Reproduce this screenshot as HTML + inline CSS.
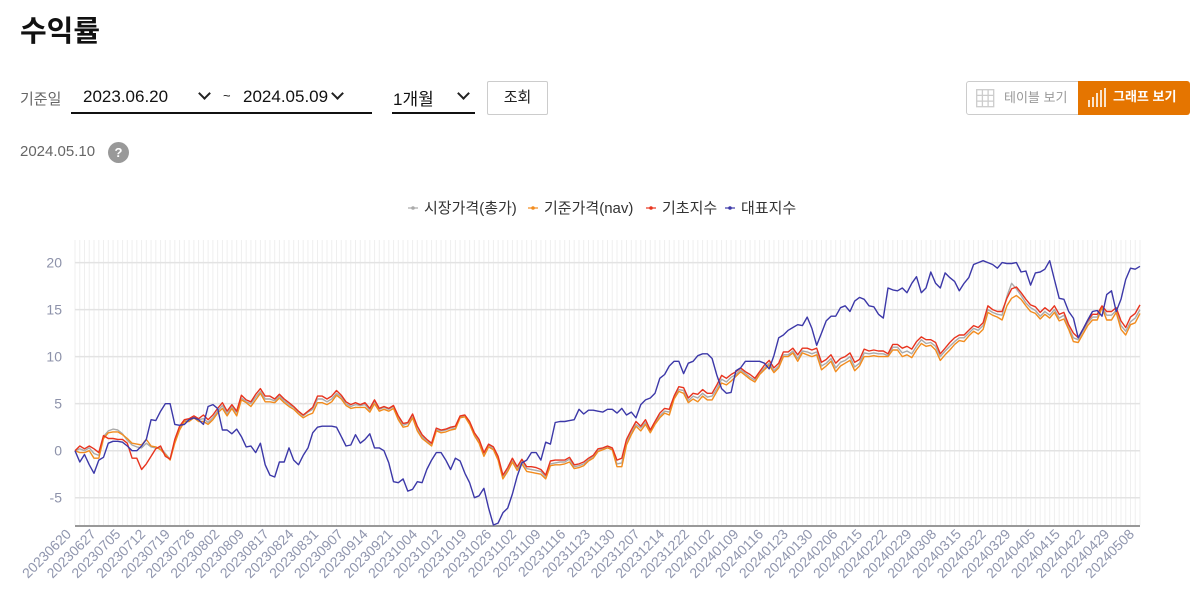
<!DOCTYPE html>
<html lang="ko"><head><meta charset="utf-8">
<style>
body{margin:0;width:1202px;height:596px;background:#fff;font-family:"Liberation Sans","Noto Sans CJK KR",sans-serif;position:relative;overflow:hidden;color:#222}
.abs{position:absolute}
.title{left:20px;top:8px;font-size:29px;font-weight:bold;color:#111}
.lbl{left:20px;top:88px;font-size:15px;color:#666}
.sel{font-size:17px;color:#111;border-bottom:2px solid #111;height:33px;top:81px;box-sizing:border-box}
.chev{position:absolute;top:6px;width:7px;height:7px;border-right:2px solid #222;border-bottom:2px solid #222;transform:rotate(45deg)}
.btn{left:487px;top:81px;width:61px;height:34px;border:1px solid #ccc;box-sizing:border-box;font-size:15px;text-align:center;line-height:32px;color:#222;border-radius:2px}
.tog{top:81px;height:34px;box-sizing:border-box;font-size:13px;line-height:32px}
</style></head><body>
<div class="abs title">수익률</div>
<div class="abs lbl">기준일</div>
<div class="abs sel" style="left:71px;width:301px">
 <span class="abs" style="left:12px;top:6px">2023.06.20</span>
 <span class="chev" style="left:129px;top:8px"></span>
 <span class="abs" style="left:152px;top:7px;font-size:13px">~</span>
 <span class="abs" style="left:172px;top:6px">2024.05.09</span>
 <span class="chev" style="left:262px;top:8px"></span>
</div>
<div class="abs sel" style="left:392px;width:83px">
 <span class="abs" style="left:1px;top:4px">1개월</span>
 <span class="chev" style="left:67px;top:8px"></span>
</div>
<div class="abs btn">조회</div>
<div class="abs tog" style="left:966px;width:113px;border:1px solid #ccc;border-radius:3px 0 0 3px;color:#999">
 <svg class="abs" style="left:9px;top:7px" width="19" height="19"><g fill="none" stroke="#ccc" stroke-width="1.3"><rect x="0.7" y="0.7" width="17" height="17"/><path d="M6.4 1V18M12.1 1V18M1 6.4H18M1 12.1H18"/></g></svg>
 <span class="abs" style="left:37px;top:0">테이블 보기</span>
</div>
<div class="abs tog" style="left:1078px;width:112px;background:#e57500;border-radius:0 3px 3px 0;color:#fff;font-weight:bold">
 <svg class="abs" style="left:9px;top:6px" width="20" height="21"><g stroke="#fff" stroke-width="1.6"><path d="M2 20V13M6 20V10M10 20V6M14 20V3M18 20V1"/></g></svg>
 <span class="abs" style="left:35px;top:0">그래프 보기</span>
</div>
<div class="abs" style="left:20px;top:143px;font-size:15px;color:#666">2024.05.10</div>
<div class="abs" style="left:108px;top:142px;width:21px;height:21px;border-radius:50%;background:#999;color:#fff;font-size:13px;font-weight:bold;text-align:center;line-height:21px">?</div>

<svg id="chart" class="abs" style="left:0;top:0" width="1202" height="596"></svg>

<script>
const labels=["20230620","20230627","20230705","20230712","20230719","20230726","20230802","20230809","20230817","20230824","20230831","20230907","20230914","20230921","20231004","20231012","20231019","20231026","20231102","20231109","20231116","20231123","20231130","20231207","20231214","20231222","20240102","20240109","20240116","20240123","20240130","20240206","20240215","20240222","20240229","20240308","20240315","20240322","20240329","20240405","20240415","20240422","20240429","20240508"];
const yTicks=[-5,0,5,10,15,20];
const seriesNames=["시장가격(총가)","기준가격(nav)","기초지수","대표지수"];
const marketPrice=[0,0.2,0,0.3,-0.3,-0.5,1.5,2.1,2.3,2.2,1.8,1.1,0.6,0.4,0.3,0.8,0.4,0.3,0.3,-0.3,-0.9,1,2.4,3.2,3.3,3.6,3.3,3.4,3,3.5,4.2,4.8,3.9,4.7,4,5.6,5.2,5,5.7,6.3,5.5,5.5,5.3,5.8,5.3,4.9,4.6,4.1,3.7,4.1,4.4,5.5,5.5,5.2,5.5,6.1,
5.7,5,4.7,4.9,4.8,4.9,4.3,5.2,4.4,4.6,4.4,4.7,3.5,2.7,2.9,3.7,2.3,1.5,1,0.7,2.2,2.1,2.2,2.4,2.4,3.6,3.7,2.9,1.7,1,-0.4,0.6,0.2,-0.8,-2.8,-2,-1,-1.9,-1.1,-1.9,-2,-2.1,-2.2,-2.8,-1.4,-1.3,-1.2,-1.2,-0.9,-1.7,-1.6,-1.4,-1,-0.6,0,0.2,0.4,
0.2,-1.4,-1.3,0.9,1.9,2.8,2.4,3,2,2.9,3.7,4.2,4.1,5.6,6.5,6.4,5.3,5.8,5.6,6.1,5.7,5.8,6.6,7.6,7.3,7.8,8.1,8.6,8.2,7.8,7.5,8.2,8.8,9.3,8.5,9,10.2,10.2,10.6,9.8,10.6,10.5,10.3,10.5,9,9.3,9.8,8.8,9.4,9.6,10,8.9,9.3,10.4,10.3,10.4,10.3,
10.3,10.1,11,11,10.4,10.6,10.3,11.1,11.8,11.4,11.5,11.1,10,10.6,11.1,11.6,12,12,12.5,13,12.8,13.3,15,14.7,14.5,14.4,16.4,17.8,17.2,16.5,15.7,15.2,14.9,14.3,14.8,14.4,15,14.1,14.4,13.1,12,11.8,12.7,13.6,14.2,14.2,15.3,14.4,14.4,14.9,13.3,12.7,13.7,14.1,15];
const navPrice=[0,-0.2,-0.2,0,-0.8,-0.8,1.3,1.9,2,2,1.7,1.3,0.8,0.7,0.6,1.2,0.5,0.4,0.1,-0.4,-1,0.8,2.2,3.1,3.1,3.5,3.1,3.1,2.8,3.3,4,4.5,3.7,4.5,3.7,5.4,5.1,4.7,5.4,6.1,5.2,5.2,5.1,5.6,5.1,4.7,4.4,3.9,3.5,3.8,4,5.1,5.1,4.9,5.2,5.9,
5.5,4.8,4.5,4.6,4.6,4.6,4.1,5,4.2,4.4,4.2,4.5,3.3,2.5,2.6,3.5,2.1,1.3,0.9,0.5,2.1,1.9,2,2.2,2.3,3.5,3.6,2.8,1.6,0.8,-0.6,0.4,0.1,-1,-3,-2.2,-1.2,-2.1,-1.4,-2.2,-2.3,-2.4,-2.5,-3,-1.6,-1.5,-1.5,-1.4,-1.2,-1.9,-1.8,-1.6,-1.1,-0.8,-0.1,0.1,0.3,
0.1,-1.7,-1.7,0.6,1.7,2.6,2.1,2.8,1.9,2.8,3.5,4,3.8,5.5,6.3,6.1,5.1,5.5,5.2,5.8,5.4,5.4,6.3,7.2,7,7.4,7.9,8.4,8,7.6,7.3,8.1,8.6,9.1,8.3,8.8,10,10,10.4,9.5,10.4,10.2,10,10.2,8.6,9,9.5,8.4,9,9.3,9.6,8.5,9,10,10,10.1,10,
10,10,10.7,10.7,10,10.2,9.9,10.7,11.4,11.1,11.2,10.7,9.6,10.2,10.7,11.3,11.7,11.6,12.2,12.7,12.4,12.9,14.7,14.4,14.2,13.9,15.4,16.2,16.5,16.1,15.4,14.8,14.6,14,14.5,14.1,14.7,13.8,14,12.9,11.6,11.5,12.4,13.3,13.9,13.9,15.2,13.9,13.9,14.7,12.9,12.3,13.4,13.6,14.6];
const baseIndex=[0,0.5,0.2,0.5,0.2,-0.2,1.6,1.3,1.3,1.2,1.2,0.8,-0.8,-0.8,-2,-1.4,-0.6,0.2,0.5,-0.6,-0.9,1.2,2.6,3.3,3.4,3.7,3.4,3.8,3.3,3.8,4.5,5.1,4.2,4.9,4.2,5.9,5.4,5.2,6,6.6,5.8,5.8,5.5,6,5.5,5.1,4.7,4.2,3.8,4.2,4.6,5.8,5.8,5.5,5.8,6.4,
5.9,5.2,4.9,5.1,4.9,5.1,4.5,5.4,4.5,4.7,4.5,4.8,3.7,2.9,3,3.9,2.6,1.7,1.2,0.8,2.4,2.2,2.3,2.5,2.6,3.7,3.8,3.1,1.9,1.2,-0.2,0.7,0.4,-0.6,-2.6,-1.8,-0.8,-1.7,-0.9,-1.7,-1.7,-1.8,-2,-2.6,-1.1,-1,-1,-1,-0.7,-1.5,-1.4,-1.2,-0.8,-0.5,0.2,0.3,0.5,
0.3,-1,-0.8,1.2,2.2,3.1,2.6,3.3,2.2,3.1,4,4.5,4.4,5.8,6.8,6.7,5.6,6.1,6,6.5,6.1,6.1,7,8,7.7,8.1,8.4,8.8,8.4,8.1,7.7,8.4,9.1,9.6,8.8,9.3,10.5,10.5,10.9,10.2,10.9,10.9,10.7,10.9,9.4,9.7,10.2,9.3,9.8,10,10.4,9.4,9.7,10.8,10.6,10.7,10.6,
10.6,10.3,11.3,11.3,10.9,11.1,10.8,11.6,12.1,11.8,11.8,11.5,10.3,10.9,11.5,12,12.3,12.3,12.8,13.3,13.1,13.6,15.4,15,14.8,14.8,16.2,17.2,17.4,16.8,16.1,15.5,15.3,14.7,15.2,14.8,15.4,14.5,14.7,13.4,12.5,12,12.9,13.8,14.5,14.5,15.4,14.8,14.8,15.2,13.8,13.1,14.2,14.6,15.5];
const repIndex=[0,-1.2,-0.4,-1.5,-2.4,-1,-0.7,0.8,1,1,0.9,0.5,0,0,0.5,1.2,3.3,3.2,4.2,5,5,2.8,2.7,2.8,3.3,3.5,3.3,2.8,4.7,4.9,4.5,2.2,2.2,1.8,2.3,1.5,0.4,0.5,-0.2,0.8,-1.5,-2.6,-2.8,-1.2,-1.2,0.3,-1,-1.5,-0.5,0.3,1.9,2.5,2.6,2.6,2.6,2.5,
1.5,0.5,0.6,1.7,0.8,1.2,1.8,0.3,0.3,0,-1.3,-3.3,-3.4,-3,-4.3,-4.1,-3.3,-3.4,-2,-1,-0.2,-0.2,-1,-2,-0.8,-1.1,-2.4,-3.4,-5,-4.8,-4,-6.1,-7.9,-7.7,-6.6,-6.1,-4.6,-2.7,-1.3,-1,-0.2,-0.2,-1,0.9,0.7,3,3.1,3.1,3.2,3.3,4.4,3.9,4.3,4.3,4.2,4.1,4.4,
4.4,4,4.5,3.8,4.1,3.5,4.9,5.4,5.6,6.1,7.7,8.1,9,9.5,9.5,8.2,9.3,9.5,10.1,10.3,10.3,9.8,8,6.6,6.1,6.2,8.5,8.8,9.5,9.5,9.5,9.5,9.3,8.7,10.1,12,12.3,12.8,13.1,13.4,13.3,14.2,13,11.2,12.5,13.8,14.3,14.3,15.2,15.4,14.8,15.9,16.3,16.1,15.4,15.3,14.5,
14.1,17.3,17.1,17,17.3,16.8,17.8,18.5,16.8,17.3,19,17.8,17.3,18.9,18.4,18,17,17.8,18.4,19.8,20,20.2,20,19.8,19.4,20,19.9,19.9,20,19,19.1,17.6,18.9,19,19.3,20.2,18.2,16.2,16.1,14.8,14.1,12,12.9,13.9,14.8,14.9,14.3,16.6,17,14.8,16.1,18.2,19.4,19.3,19.6];

const NS="http://www.w3.org/2000/svg";
const svg=document.getElementById('chart');
const L=75,R=1140,T=240,B=525,yMin=-7.9,yMax=22.4;
const N=baseIndex.length;
function xS(i){return L+(R-L)*i/(N-1);}
function yS(v){return B-(v-yMin)/(yMax-yMin)*(B-T);}
function mk(tag,attrs){const e=document.createElementNS(NS,tag);for(const k in attrs)e.setAttribute(k,attrs[k]);svg.appendChild(e);return e;}
for(let i=0;i<N;i++){
  const g=mk('line',{x1:xS(i),x2:xS(i),y1:T,y2:B,stroke:'#efefef','stroke-width':1});
  
  
}
yTicks.forEach(v=>{
  const g=mk('line',{x1:L,x2:R,y1:yS(v),y2:yS(v),stroke:'#e3e3e3','stroke-width':1.5});
  
  
  const t=mk('text',{x:62,y:yS(v)+5,'text-anchor':'end','font-size':14,fill:'#8d92aa','font-family':'Liberation Sans, sans-serif'});
  t.textContent=v;
  
  
});
const ax=mk('line',{x1:L,x2:R,y1:B+1,y2:B+1,stroke:'#999','stroke-width':2});


labels.forEach((s,k)=>{
  const x=L+(R-L-2)*k/(labels.length-1);
  const t=mk('text',{x:x-3,y:B+10,'text-anchor':'end','font-size':14,fill:'#9096ae','font-family':'Liberation Sans, sans-serif',transform:`rotate(-45 ${x-3} ${B+10})`});
  t.textContent=s;
  
  
});
const series=[[marketPrice,'#aaaaaa','market-price-line'],[navPrice,'#f28c1e','nav-price-line'],[baseIndex,'#e8341e','base-index-line'],[repIndex,'#3c38a8','representative-index-line']];
series.forEach(([d,c,n])=>{
  const p=mk('polyline',{points:d.map((v,i)=>xS(i).toFixed(1)+','+yS(v).toFixed(1)).join(' '),fill:'none',stroke:c,'stroke-width':1.4,'stroke-linejoin':'round'});
  
  
});
const lx=[408,528,646,725];
seriesNames.forEach((nm,k)=>{
  const c=series[k][1];
  const ln=mk('line',{x1:lx[k],x2:lx[k]+10,y1:208,y2:208,stroke:c,'stroke-width':1.2});
  
  
  const dt=mk('circle',{cx:lx[k]+5,cy:208,r:1.8,fill:c});
  
  
  const t=mk('text',{x:lx[k]+16,y:213,'font-size':15,fill:'#333','font-family':'Liberation Sans, Noto Sans CJK KR, sans-serif'});
  t.textContent=nm;
  
  
});
</script>
</body></html>
